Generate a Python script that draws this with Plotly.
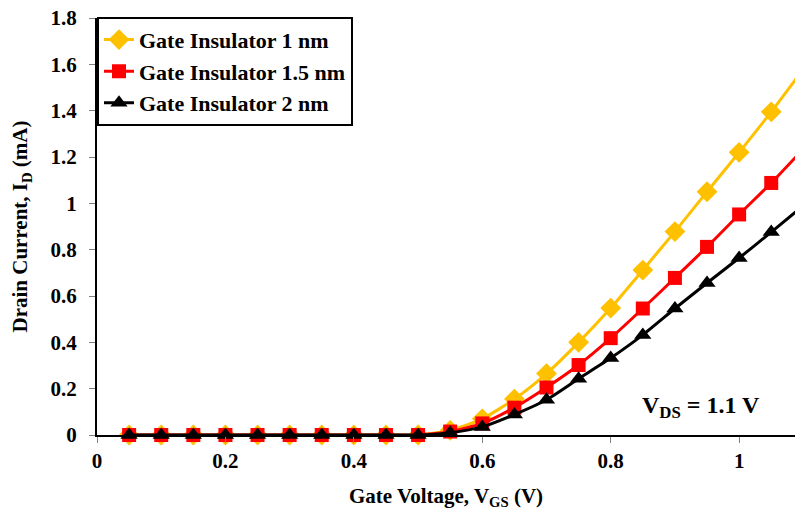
import plotly.graph_objects as go

# Gate voltage sweep (V)
vgs = [0.05, 0.10, 0.15, 0.20, 0.25, 0.30, 0.35, 0.40, 0.45, 0.50, 0.55,
       0.60, 0.65, 0.70, 0.75, 0.80, 0.85, 0.90, 0.95, 1.00, 1.05, 1.10]

# Drain current (mA) for each gate insulator thickness
id_1nm = [0, 0, 0, 0, 0, 0, 0, 0, 0, 0, 0.02,
          0.07, 0.155, 0.265, 0.40, 0.548, 0.712, 0.878, 1.05, 1.22, 1.395, 1.58]
id_1p5nm = [0, 0, 0, 0, 0, 0, 0, 0, 0, 0, 0.015,
            0.05, 0.118, 0.205, 0.302, 0.418, 0.546, 0.678, 0.812, 0.952, 1.088, 1.235]
id_2nm = [0, 0, 0, 0, 0, 0, 0, 0, 0, 0, 0.01,
          0.035, 0.088, 0.152, 0.243, 0.332, 0.432, 0.546, 0.656, 0.764, 0.876, 0.99]

series = [
    ("Gate Insulator 1 nm", id_1nm, "#FFC000", "diamond", 16),
    ("Gate Insulator 1.5 nm", id_1p5nm, "#FF0000", "square", 14),
    ("Gate Insulator 2 nm", id_2nm, "#000000", "triangle-up", 15),
]

FONT = "Liberation Serif"


def bold(size):
    return dict(family=FONT, size=size, color="black", weight="bold")


fig = go.Figure()
for name, ys, color, symbol, size in series:
    fig.add_trace(go.Scatter(
        x=vgs, y=ys, name=name, mode="lines+markers",
        line=dict(color=color, width=3, shape="spline", smoothing=0.6),
        marker=dict(symbol=symbol, size=size, color=color),
        cliponaxis=False,
    ))

fig.add_annotation(
    x=0.94, y=0.12, xref="x", yref="y", showarrow=False,
    text="V<sub>DS</sub> = 1.1 V",
    font=bold(24),
)

fig.update_layout(
    width=795, height=513,
    margin=dict(l=97, r=0, t=18, b=78),
    plot_bgcolor="white", paper_bgcolor="white",
    font=bold(20),
    showlegend=True,
    legend=dict(
        x=0, y=1.003, xanchor="left", yanchor="top",
        bordercolor="black", borderwidth=2, bgcolor="white",
        font=bold(22),
        tracegroupgap=0, itemsizing="trace",
    ),
    xaxis=dict(
        range=[0, 1.087], dtick=0.2, tick0=0,
        showgrid=False, zeroline=False,
        showline=True, linecolor="black", linewidth=2,
        ticks="outside", ticklen=6, tickcolor="#808080", tickwidth=1,
        tickfont=bold(21),
        title=dict(text="Gate Voltage, V<sub>GS</sub> (V)",
                   font=bold(21), standoff=16),
    ),
    yaxis=dict(
        range=[0, 1.8], dtick=0.2, tick0=0,
        showgrid=False, zeroline=False,
        showline=True, linecolor="black", linewidth=2,
        ticks="outside", ticklen=6, tickcolor="#808080", tickwidth=1,
        ticklabelstandoff=8,
        tickfont=bold(21),
        title=dict(text="Drain Current, I<sub>D</sub> (mA)",
                   font=bold(21), standoff=17),
    ),
)

fig.write_html("out.html")
